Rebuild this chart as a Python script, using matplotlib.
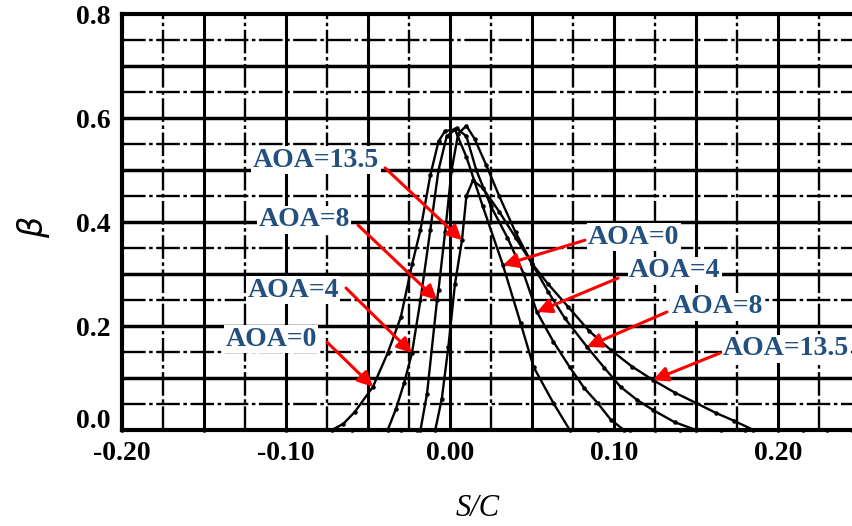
import numpy as np
import matplotlib
matplotlib.use("Agg")
import matplotlib.pyplot as plt
from matplotlib.transforms import ScaledTranslation

# beta vs S/C for four angles of attack
s_c_0 = [-0.20, -0.15, -0.10, -0.072, -0.065, -0.058, -0.047, -0.038, -0.030, -0.023, -0.018,
         -0.012, -0.007, -0.003, 0.003, 0.010, 0.020, 0.0323, 0.043, 0.051, 0.063, 0.073,
         0.09, 0.11]
beta_0 = [0.0, 0.0, 0.0, 0.0, 0.012, 0.035, 0.083, 0.148, 0.217, 0.32, 0.385,
          0.49, 0.555, 0.575, 0.578, 0.525, 0.43, 0.317, 0.206, 0.121, 0.052, 0.0,
          0.0, 0.0]

s_c_4 = [-0.06, -0.038, -0.033, -0.028, -0.0232, -0.018, -0.012, -0.007, -0.002, 0.004,
         0.010, 0.016, 0.025, 0.035, 0.045, 0.053, 0.063, 0.073, 0.082, 0.090, 0.098,
         0.106, 0.125, 0.14]
beta_4 = [0.0, 0.0, 0.04, 0.09, 0.148, 0.25, 0.385, 0.50, 0.565, 0.58,
          0.565, 0.50, 0.43, 0.37, 0.30, 0.227, 0.17, 0.121, 0.08, 0.052, 0.02,
          0.0, 0.0, 0.0]

s_c_8 = [-0.03, -0.018, -0.014, -0.0079, -0.007, -0.003, 0.001, 0.005, 0.010, 0.015,
         0.022, 0.030, 0.040, 0.050, 0.060, 0.070, 0.0835, 0.094, 0.104, 0.114, 0.124,
         0.137, 0.150, 0.165, 0.18]
beta_8 = [0.0, 0.0, 0.07, 0.25, 0.27, 0.38, 0.50, 0.57, 0.585, 0.56,
          0.51, 0.45, 0.38, 0.32, 0.265, 0.215, 0.16, 0.12, 0.083, 0.058, 0.038,
          0.015, 0.0, 0.0, 0.0]

s_c_13 = [-0.02, -0.009, -0.005, -0.001, 0.003, 0.0073, 0.010, 0.014, 0.020, 0.030, 0.040,
          0.050, 0.060, 0.072, 0.085, 0.098, 0.111, 0.1238, 0.137, 0.150, 0.162, 0.173,
          0.185, 0.20, 0.215, 0.23, 0.245]
beta_13 = [0.0, 0.0, 0.06, 0.16, 0.28, 0.365, 0.45, 0.48, 0.465, 0.42, 0.37,
           0.32, 0.28, 0.237, 0.19, 0.154, 0.122, 0.096, 0.072, 0.052, 0.033, 0.018,
           0.0, 0.0, 0.0, 0.0, 0.0]

curves = [(s_c_0, beta_0), (s_c_4, beta_4), (s_c_8, beta_8), (s_c_13, beta_13)]

# callouts: text, text centre, arrow tail, arrow tip
labels = [
    ("AOA=13.5", (-0.0817, 0.519), (-0.0396, 0.504), (0.0073, 0.365)),
    ("AOA=8", (-0.089, 0.404), (-0.0561, 0.394), (-0.0079, 0.25)),
    ("AOA=4", (-0.0957, 0.269), (-0.0634, 0.273), (-0.0232, 0.148)),
    ("AOA=0", (-0.109, 0.175), (-0.075, 0.169), (-0.047, 0.083)),
    ("AOA=0", (0.112, 0.371), (0.0823, 0.365), (0.0323, 0.317)),
    ("AOA=4", (0.137, 0.306), (0.1024, 0.292), (0.053, 0.227)),
    ("AOA=8", (0.163, 0.237), (0.1323, 0.227), (0.0835, 0.16)),
    ("AOA=13.5", (0.205, 0.156), (0.1646, 0.148), (0.1238, 0.096)),
]

x_ticks = [-0.20, -0.10, 0.00, 0.10, 0.20]
y_ticks = [0.0, 0.2, 0.4, 0.6, 0.8]

serif = ["Liberation Serif", "DejaVu Serif"]

fig = plt.figure(figsize=(8.53, 5.26), dpi=100)
ax = fig.add_axes([122 / 853, 96 / 526, 731 / 853, 416 / 526])
ax.set_xlim(-0.2, -0.2 + 731 / 1640)
ax.set_ylim(0, 0.8)

# graph-paper style grid
broken = (0, (10, 1.5, 1.5, 1.5))
for gx in np.arange(-0.175, 0.246, 0.025):
    if abs(round(gx / 0.05) * 0.05 - gx) < 1e-6:
        ax.axvline(gx, color="black", lw=2.2, zorder=1)
    else:
        ax.axvline(gx, color="black", lw=1.7, ls=broken, zorder=1)
for gy in np.arange(0.05, 0.8, 0.05):
    if abs(round(gy / 0.1) * 0.1 - gy) < 1e-6:
        ax.axhline(gy, color="black", lw=2.5, zorder=1)
    else:
        ax.axhline(gy, color="black", lw=1.7, ls=broken, zorder=1)

for xs, ys in curves:
    ax.plot(xs, ys, color="black", lw=1.7, marker=".", ms=4.5, zorder=3, clip_on=False)

for text, pos, tail, tip in labels:
    ax.annotate("", xy=tip, xytext=tail,
                arrowprops=dict(arrowstyle="-|>", color="red", lw=2.2,
                                mutation_scale=22, shrinkA=0, shrinkB=0),
                zorder=5)
    ax.text(pos[0], pos[1], text, ha="center", va="center", fontsize=20,
            family=serif, weight="bold", color="#24507f", zorder=6,
            bbox=dict(facecolor="white", edgecolor="none", pad=1.0))

for side in ["left", "bottom", "top"]:
    ax.spines[side].set_linewidth(3)
ax.spines["right"].set_visible(False)

ax.set_xticks(x_ticks)
ax.set_xticklabels(["%.2f" % v for v in x_ticks])
ax.set_yticks(y_ticks)
ax.set_yticklabels(["%.1f" % v for v in y_ticks])
ax.tick_params(length=0, pad=8, labelsize=20)
for lab in ax.get_xticklabels() + ax.get_yticklabels():
    lab.set_family(serif)
    lab.set_weight("bold")
# lift the 0.0 label clear of the x labels
lab0 = ax.yaxis.get_major_ticks()[0].label1
lab0.set_transform(lab0.get_transform() + ScaledTranslation(0, 12 / 100, fig.dpi_scale_trans))

fig.text(34 / 853, 1 - 227 / 526, r"$\beta$", rotation=90, fontsize=24,
         ha="center", va="center")
fig.text(478 / 853, 1 - 508 / 526, "S/C", fontsize=22, style="italic",
         family=serif, ha="center", va="center")

fig.savefig("out.png", dpi=100)
